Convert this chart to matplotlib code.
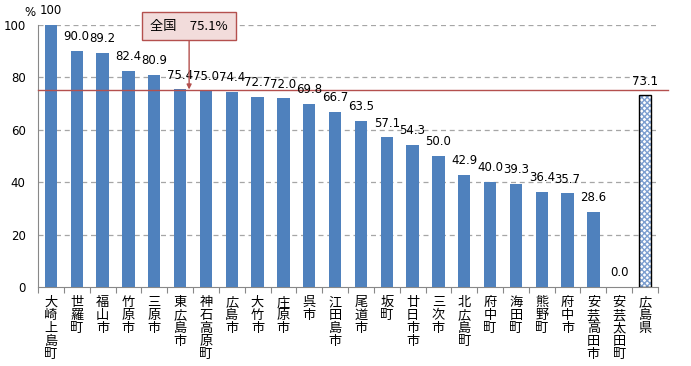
import matplotlib
matplotlib.use("Agg")
import matplotlib.pyplot as plt

plt.rcParams['font.family'] = ['Noto Sans CJK JP', 'DejaVu Sans']

categories = ["大崎上島町", "世羅町", "福山市", "竹原市", "三原市", "東広島市", "神石高原町",
              "広島市", "大竹市", "庄原市", "呉市", "江田島市", "尾道市", "坂町", "廿日市市",
              "三次市", "北広島町", "府中町", "海田町", "熊野町", "府中市", "安芸高田市",
              "安芸太田町", "広島県"]
values = [100, 90.0, 89.2, 82.4, 80.9, 75.4, 75.0, 74.4, 72.7, 72.0, 69.8, 66.7, 63.5,
          57.1, 54.3, 50.0, 42.9, 40.0, 39.3, 36.4, 35.7, 28.6, 0.0, 73.1]
value_labels = ["100", "90.0", "89.2", "82.4", "80.9", "75.4", "75.0", "74.4", "72.7", "72.0",
                "69.8", "66.7", "63.5", "57.1", "54.3", "50.0", "42.9", "40.0", "39.3", "36.4",
                "35.7", "28.6", "0.0", "73.1"]
national = 75.1
national_label = "全国　75.1%"
yticks = [0, 20, 40, 60, 80, 100]

fig = plt.figure(figsize=(6.91, 3.66), dpi=100)
ax = fig.add_axes([38/691, 1-287/366, (658-38)/691, (287-25)/366])

n = len(categories)
xs = list(range(n))
blue = '#4f81bd'
ax.bar(xs[:-1], values[:-1], width=0.48, color=blue, zorder=3)
# prefecture bar: checkered
ax.bar(xs[-1], values[-1], width=0.48, color='white', edgecolor='#7d9fd0', hatch='xxxxxx',
       linewidth=0, zorder=3)
ax.bar(xs[-1], values[-1], width=0.48, color='none', edgecolor='black', linewidth=1.0, zorder=4)

for x, v, lab in zip(xs, values, value_labels):
    ax.text(x, v + 3.0, lab, ha='center', va='bottom', fontsize=8.5, family=['DejaVu Sans'], zorder=5)

ax.set_xlim(-0.5, n - 0.5)
ax.set_ylim(0, 100)
ax.set_yticks(yticks)
ax.set_yticklabels([str(t) for t in yticks], fontsize=8.5, family=['DejaVu Sans'])
ax.tick_params(axis='y', length=0, pad=9)
for t in yticks[1:]:
    ax.axhline(t, color='#a6a6a6', linestyle=(0, (4, 3)), linewidth=0.9, zorder=1)

ax.set_xticks([x - 0.5 for x in range(n + 1)])
ax.set_xticklabels([])
ax.tick_params(axis='x', length=4, color='#888888', direction='out')
for x, c in zip(xs, categories):
    ax.text(x, -3.5, "\n".join(c), ha='center', va='top', fontsize=9.5, linespacing=1.0)

for s in ['top', 'right']:
    ax.spines[s].set_visible(False)
ax.spines['left'].set_color('#888888')
ax.spines['bottom'].set_color('#888888')

red = '#b4504e'
ax.plot([-0.5, n - 0.5 + 10/27], [national, national], color=red, linewidth=1.0, clip_on=False, zorder=4)

ax.annotate(national_label, xy=(5.35, national + 0.3), xytext=(5.35, 99.6),
            fontsize=9.5, ha='center', va='center', annotation_clip=False,
            bbox=dict(boxstyle='square,pad=0.6', fc='#f2dcdb', ec=red, lw=1.0),
            arrowprops=dict(arrowstyle='-|>', color=red, lw=1.0, mutation_scale=7,
                            shrinkA=0, shrinkB=0), zorder=6)

fig.text(30/691, 1-12/366, "%", fontsize=8.5, ha='center', va='center', family=['DejaVu Sans'])

fig.savefig("out.png", dpi=100)
